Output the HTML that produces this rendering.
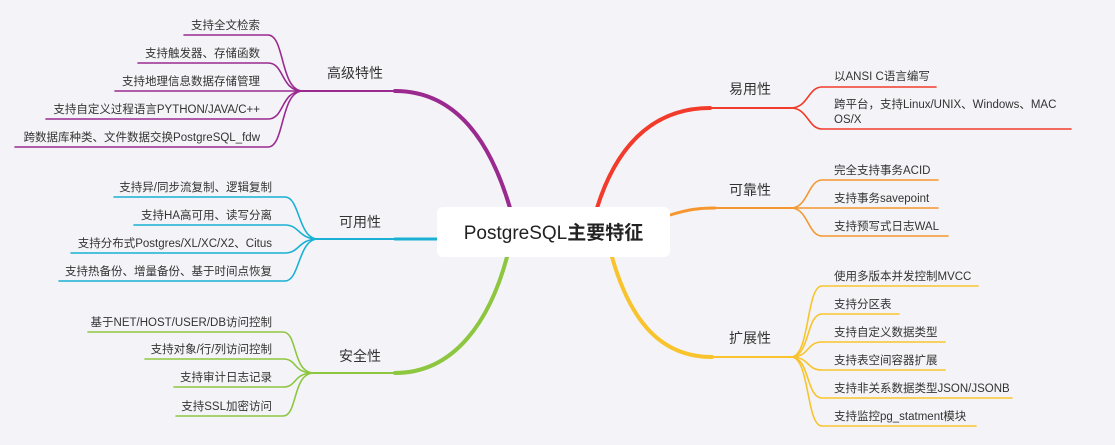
<!DOCTYPE html>
<html><head><meta charset="utf-8"><style>
html,body{margin:0;padding:0;background:#f4f4f8;}
svg{display:block;}
text{font-family:"Liberation Sans","Noto Sans CJK SC",sans-serif;fill:#333;}
.l{font-size:11.5px;}
.b{font-size:14px;}
</style></head><body>
<svg width="1115" height="445" viewBox="0 0 1115 445" xmlns="http://www.w3.org/2000/svg">
<rect width="1115" height="445" fill="#f4f4f8"/>
<g fill="none" stroke-linecap="round">
<g stroke="#9a2a8f">
<path d="M510,208 C490,140 455,91 395,91" stroke-width="4"/>
<path d="M397,91 L303,91" stroke-width="2"/>
<g stroke-width="1.6">
<path d="M303,91 C280,91 285,35 268,35 L184,35"/>
<path d="M303,91 C280,91 285,63 268,63 L138,63"/>
<path d="M303,91 L115,91"/>
<path d="M303,91 C280,91 285,119 268,119 L46,119"/>
<path d="M303,91 C280,91 285,147 268,147 L15,147"/>
</g></g>
<g stroke="#1ab0d4">
<path d="M437,239 L395,239" stroke-width="3"/>
<path d="M395,239 L318,239" stroke-width="2"/>
<g stroke-width="1.6">
<path d="M318,239 C298,239 300,197 285,197 L114,197"/>
<path d="M318,239 C298,239 300,225 285,225 L134,225"/>
<path d="M318,239 C298,239 300,253 285,253 L71,253"/>
<path d="M318,239 C298,239 300,281 285,281 L59,281"/>
</g></g>
<g stroke="#8dc63f">
<path d="M507,257 C490,320 455,373 395,373" stroke-width="4"/>
<path d="M397,373 L314,373" stroke-width="2"/>
<g stroke-width="1.6">
<path d="M314,373 C292,373 298,332 283,332 L88,332"/>
<path d="M314,373 C292,373 298,359 283,359 L145,359"/>
<path d="M314,373 C292,373 298,387 283,387 L174,387"/>
<path d="M314,373 C292,373 298,416 283,416 L176,416"/>
</g></g>
<g stroke="#f23b2a">
<path d="M597,208 C615,150 650,108 710,108" stroke-width="4"/>
<path d="M708,108 L791,108" stroke-width="2"/>
<g stroke-width="1.6">
<path d="M791,108 C808,108 808,87 822,87 L936,87"/>
<path d="M791,108 C808,108 808,129 822,129 L1071,129"/>
</g></g>
<g stroke="#f5962e">
<path d="M670,215 C690,209 700,208 715,208" stroke-width="3"/>
<path d="M713,208 L791,208" stroke-width="2"/>
<g stroke-width="1.6">
<path d="M791,208 C808,208 808,180 822,180 L938,180"/>
<path d="M791,208 L938,208"/>
<path d="M791,208 C808,208 808,236 822,236 L948,236"/>
</g></g>
<g stroke="#f8c32c">
<path d="M612,257 C630,320 660,357 712,357" stroke-width="4"/>
<path d="M710,357 L791,357" stroke-width="2"/>
<g stroke-width="1.6">
<path d="M791,357 C810,357 806,286 822,286 L978,286"/>
<path d="M791,357 C810,357 806,314 822,314 L899,314"/>
<path d="M791,357 C810,357 806,342 822,342 L945,342"/>
<path d="M791,357 C810,357 806,370 822,370 L945,370"/>
<path d="M791,357 C810,357 806,398 822,398 L1012,398"/>
<path d="M791,357 C810,357 806,426 822,426 L976,426"/>
</g></g>
</g>
<rect x="437" y="207" width="233" height="50" rx="6" fill="#fff"/>
<text x="553.5" y="239" text-anchor="middle" style="font-size:19px;fill:#222">PostgreSQL<tspan style="font-weight:bold">主要特征</tspan></text>
<g class="b">
<text x="327" y="78">高级特性</text>
<text x="339" y="227">可用性</text>
<text x="339" y="361">安全性</text>
<text x="729" y="94">易用性</text>
<text x="729" y="195">可靠性</text>
<text x="729" y="343">扩展性</text>
</g>
<g class="l" text-anchor="end">
<text x="260" y="29">支持全文检索</text>
<text x="260" y="57">支持触发器、存储函数</text>
<text x="260" y="85">支持地理信息数据存储管理</text>
<text x="260" y="113">支持自定义过程语言PYTHON/JAVA/C++</text>
<text x="260" y="141">跨数据库种类、文件数据交换PostgreSQL_fdw</text>
<text x="272" y="191">支持异/同步流复制、逻辑复制</text>
<text x="272" y="219">支持HA高可用、读写分离</text>
<text x="272" y="247">支持分布式Postgres/XL/XC/X2、Citus</text>
<text x="272" y="275">支持热备份、增量备份、基于时间点恢复</text>
<text x="272" y="326">基于NET/HOST/USER/DB访问控制</text>
<text x="272" y="353">支持对象/行/列访问控制</text>
<text x="272" y="381">支持审计日志记录</text>
<text x="272" y="410">支持SSL加密访问</text>
</g>
<g class="l">
<text x="834" y="80">以ANSI C语言编写</text>
<text x="834" y="108">跨平台，支持Linux/UNIX、Windows、MAC</text>
<text x="834" y="123">OS/X</text>
<text x="834" y="174">完全支持事务ACID</text>
<text x="834" y="202">支持事务savepoint</text>
<text x="834" y="230">支持预写式日志WAL</text>
<text x="834" y="280">使用多版本并发控制MVCC</text>
<text x="834" y="308">支持分区表</text>
<text x="834" y="336">支持自定义数据类型</text>
<text x="834" y="364">支持表空间容器扩展</text>
<text x="834" y="392">支持非关系数据类型JSON/JSONB</text>
<text x="834" y="420">支持监控pg_statment模块</text>
</g>
</svg>
</body></html>
